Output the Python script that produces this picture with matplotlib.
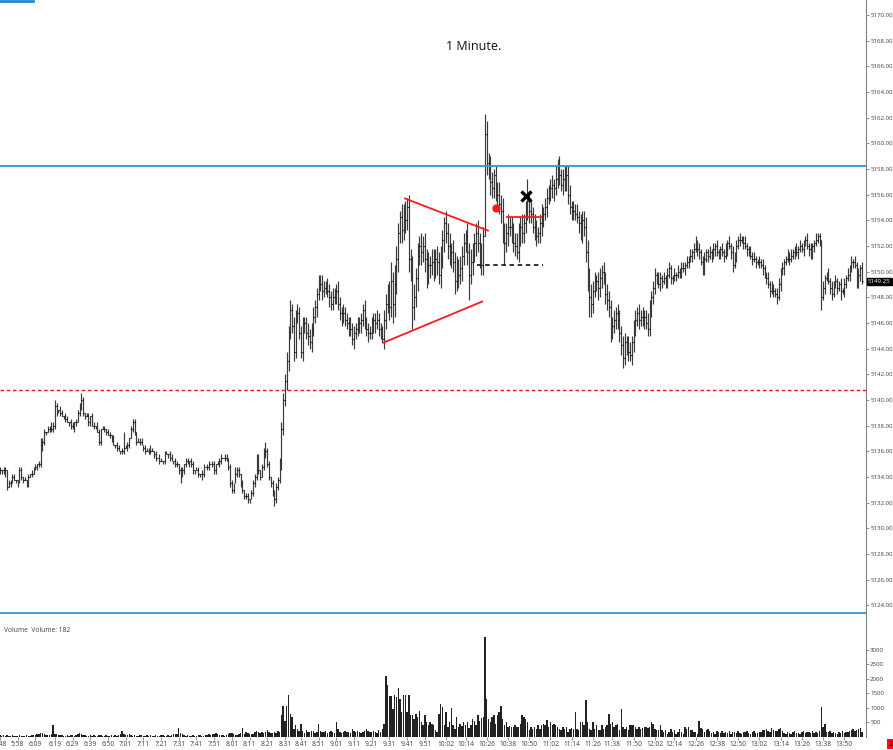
import matplotlib
matplotlib.use('Agg')
import matplotlib.pyplot as plt
from matplotlib.lines import Line2D
from matplotlib.patches import Rectangle
import numpy as np

# 1 minute closes, one row per 10 bars (5:48 .. 13:57)
close = [
    5134.5, 5134.5, 5134.25, 5134.5, 5133.25, 5133.5, 5133.75, 5134.0, 5133.75, 5133.75,
    5133.5, 5134.5, 5134.0, 5133.75, 5133.75, 5133.5, 5134.0, 5134.25, 5134.25, 5134.5,
    5134.75, 5135.0, 5135.0, 5136.5, 5136.75, 5137.5, 5137.5, 5137.75, 5137.75, 5137.75,
    5138.0, 5139.5, 5139.25, 5139.25, 5139.0, 5138.75, 5138.75, 5138.5, 5138.25, 5138.25,
    5138.0, 5137.75, 5138.25, 5138.25, 5139.0, 5139.5, 5140.0, 5139.0, 5138.75, 5138.75,
    5138.25, 5138.75, 5138.0, 5138.0, 5138.0, 5137.5, 5136.75, 5137.75, 5137.75, 5137.75,
    5137.5, 5137.25, 5137.25, 5137.0, 5136.5, 5136.5, 5136.25, 5136.0, 5136.0, 5136.0,
    5136.25, 5136.25, 5136.5, 5137.0, 5137.75, 5138.25, 5137.5, 5136.75, 5136.75, 5136.75,
    5136.5, 5136.25, 5136.0, 5136.0, 5136.25, 5136.0, 5136.0, 5135.75, 5135.5, 5135.5,
    5135.25, 5135.25, 5135.25, 5135.75, 5135.75, 5135.75, 5135.5, 5135.25, 5135.25, 5135.0,
    5135.0, 5134.5, 5134.0, 5134.5, 5135.0, 5135.25, 5135.0, 5135.25, 5135.0, 5134.5,
    5134.5, 5134.5, 5134.25, 5134.25, 5134.25, 5134.75, 5134.75, 5134.75, 5135.0, 5135.0,
    5135.0, 5134.5, 5135.0, 5135.0, 5135.25, 5135.5, 5135.5, 5135.5, 5135.5, 5134.75,
    5133.5, 5133.0, 5133.5, 5134.25, 5134.5, 5134.25, 5133.5, 5133.0, 5132.5, 5132.5,
    5132.25, 5132.25, 5132.75, 5133.5, 5134.0, 5135.5, 5134.5, 5134.0, 5134.75, 5135.75,
    5136.0, 5135.0, 5134.0, 5133.5, 5132.75, 5132.25, 5133.25, 5133.75, 5135.0, 5137.75,
    5140.0, 5141.5, 5143.0, 5145.25, 5147.0, 5145.75, 5143.75, 5146.5, 5146.75, 5145.25,
    5143.75, 5145.75, 5146.0, 5145.25, 5145.0, 5144.5, 5145.5, 5146.5, 5147.25, 5148.25,
    5149.25, 5149.0, 5148.5, 5148.75, 5148.75, 5148.5, 5148.0, 5147.5, 5148.0, 5148.25,
    5148.5, 5147.5, 5146.75, 5146.5, 5146.75, 5146.25, 5146.0, 5145.75, 5145.5, 5144.75,
    5145.25, 5145.5, 5145.75, 5146.0, 5146.25, 5147.0, 5146.0, 5145.5, 5145.25, 5145.25,
    5145.75, 5146.25, 5146.0, 5146.25, 5145.5, 5145.25, 5144.75, 5146.25, 5147.5, 5148.25,
    5147.25, 5149.25, 5147.5, 5149.0, 5151.0, 5153.0, 5154.25, 5153.25, 5154.5, 5154.0,
    5155.0, 5151.0, 5150.0, 5147.25, 5148.0, 5149.5, 5151.25, 5152.0, 5151.5, 5152.0,
    5151.0, 5149.75, 5150.5, 5150.5, 5150.75, 5150.25, 5151.0, 5150.75, 5149.75, 5151.0,
    5152.5, 5153.75, 5153.0, 5152.0, 5151.25, 5151.5, 5150.75, 5149.25, 5150.25, 5149.75,
    5150.25, 5151.25, 5152.25, 5152.75, 5151.5, 5149.75, 5150.75, 5151.5, 5152.25, 5153.0,
    5152.25, 5151.25, 5150.5, 5152.75, 5160.75, 5158.5, 5158.0, 5157.0, 5156.5, 5157.5,
    5156.25, 5156.0, 5155.25, 5154.75, 5153.0, 5152.25, 5153.0, 5153.5, 5153.5, 5153.0,
    5152.25, 5152.0, 5151.5, 5153.0, 5153.5, 5153.0, 5153.75, 5154.75, 5155.5, 5154.75,
    5154.5, 5153.5, 5153.25, 5152.75, 5153.0, 5153.75, 5154.25, 5154.5, 5155.0, 5155.75,
    5156.25, 5156.5, 5156.75, 5156.5, 5157.25, 5158.0, 5157.5, 5156.75, 5157.25, 5157.0,
    5157.5, 5156.0, 5155.0, 5154.75, 5154.75, 5154.5, 5154.25, 5153.75, 5153.25, 5154.0,
    5153.5, 5151.5, 5149.5, 5148.0, 5147.5, 5148.5, 5149.25, 5149.25, 5148.75, 5149.5,
    5150.0, 5149.5, 5148.25, 5147.75, 5147.25, 5145.5, 5145.75, 5146.25, 5146.75, 5146.25,
    5145.25, 5144.25, 5143.25, 5144.5, 5144.25, 5143.75, 5143.5, 5144.5, 5145.5, 5146.25,
    5146.75, 5146.25, 5146.5, 5146.25, 5146.5, 5146.0, 5145.5, 5147.25, 5148.0, 5148.75,
    5149.75, 5149.5, 5149.0, 5149.5, 5149.25, 5149.5, 5149.25, 5149.75, 5150.25, 5149.5,
    5149.5, 5149.75, 5149.75, 5150.0, 5150.0, 5150.25, 5150.25, 5150.5, 5150.75, 5151.0,
    5151.25, 5151.5, 5151.75, 5152.25, 5151.75, 5151.5, 5150.75, 5150.25, 5151.0, 5151.5,
    5151.25, 5151.5, 5151.25, 5151.75, 5152.0, 5151.5, 5151.5, 5151.75, 5151.5, 5151.25,
    5151.75, 5152.25, 5152.0, 5151.5, 5150.5, 5151.25, 5152.0, 5152.5, 5152.5, 5152.5,
    5152.25, 5152.0, 5151.75, 5151.5, 5151.25, 5151.0, 5151.0, 5150.75, 5150.75, 5150.75,
    5150.5, 5150.25, 5149.75, 5149.5, 5149.0, 5148.5, 5148.75, 5148.5, 5148.25, 5148.0,
    5149.0, 5150.0, 5150.25, 5150.75, 5151.0, 5151.25, 5151.0, 5151.25, 5151.5, 5151.75,
    5151.5, 5151.75, 5152.0, 5151.75, 5152.25, 5152.5, 5152.0, 5151.75, 5151.25, 5152.0,
    5152.25, 5152.5, 5152.75, 5152.5, 5148.0, 5148.75, 5149.5, 5149.75, 5149.25, 5148.75,
    5148.25, 5149.0, 5149.25, 5148.75, 5149.0, 5148.5, 5148.5, 5149.0, 5149.5, 5149.75,
    5150.25, 5150.75, 5150.75, 5150.5, 5149.0, 5149.75, 5150.25, 5149.25,
]

# wick above / below the open-close body, in ticks of 0.25
wick_up = [
    1, 0, 1, 1, 0, 1, 0, 1, 1, 0,  0, 1, 1, 0, 1, 0, 1, 0, 1, 1,
    1, 0, 1, 2, 1, 1, 0, 1, 1, 2,  1, 2, 1, 0, 1, 1, 0, 1, 1, 0,
    1, 1, 0, 1, 1, 1, 2, 1, 0, 1,  1, 0, 1, 1, 0, 1, 1, 0, 1, 1,
    0, 1, 1, 0, 1, 0, 1, 1, 0, 1,  5, 1, 1, 0, 1, 1, 1, 0, 1, 1,
    1, 0, 1, 1, 0, 1, 1, 0, 1, 0,  1, 1, 0, 1, 1, 0, 1, 1, 0, 1,
    1, 0, 1, 1, 0, 1, 1, 0, 1, 1,  0, 1, 1, 0, 1, 1, 0, 1, 1, 0,
    1, 1, 0, 1, 1, 1, 0, 1, 1, 0,  1, 1, 0, 2, 1, 1, 0, 1, 0, 1,
    1, 0, 1, 1, 1, 1, 1, 0, 1, 2,  3, 1, 1, 0, 1, 1, 1, 1, 2, 2,
    2, 2, 3, 2, 3, 2, 3, 2, 3, 2,  2, 3, 2, 2, 3, 2, 2, 3, 2, 2,
    2, 2, 3, 2, 2, 3, 2, 2, 3, 2,  2, 3, 2, 2, 3, 2, 2, 2, 3, 2,
    2, 2, 3, 2, 2, 2, 3, 2, 2, 2,  3, 2, 2, 3, 2, 2, 2, 3, 3, 3,
    4, 6, 3, 6, 4, 3, 2, 4, 3, 4,  3, 4, 3, 5, 4, 3, 4, 3, 4, 3,
    4, 3, 4, 3, 4, 4, 3, 4, 3, 4,  3, 2, 4, 3, 4, 3, 4, 3, 4, 3,
    4, 3, 3, 2, 4, 3, 4, 3, 3, 3,  4, 3, 4, 3, 6, 4, 3, 4, 3, 2,
    3, 3, 4, 3, 4, 3, 3, 4, 3, 3,  3, 3, 4, 3, 3, 4, 3, 3, 7, 3,
    3, 2, 4, 3, 2, 3, 4, 2, 3, 3,  2, 3, 3, 2, 4, 3, 4, 2, 3, 4,
    3, 3, 3, 2, 3, 2, 3, 2, 3, 3,  3, 3, 4, 3, 4, 3, 3, 2, 3, 3,
    2, 3, 2, 3, 3, 2, 3, 3, 2, 3,  3, 2, 3, 3, 2, 3, 3, 2, 3, 3,
    2, 3, 2, 3, 2, 2, 3, 2, 2, 2,  2, 1, 2, 2, 1, 2, 1, 2, 2, 1,
    1, 2, 1, 2, 1, 2, 2, 1, 2, 1,  2, 1, 2, 2, 1, 2, 1, 2, 2, 1,
    1, 2, 1, 2, 1, 2, 1, 1, 2, 1,  2, 1, 2, 1, 2, 1, 2, 1, 2, 1,
    1, 2, 1, 1, 2, 1, 2, 1, 1, 2,  1, 2, 1, 1, 2, 1, 2, 1, 1, 2,
    2, 1, 2, 1, 1, 2, 1, 2, 1, 1,  2, 1, 2, 1, 1, 1, 2, 1, 2, 1,
    1, 2, 1, 1, 0, 2, 1, 1, 2, 1,  2, 1, 2, 1, 1, 2, 1, 2, 1, 2,
    1, 2, 1, 2, 1, 2, 1, 2,
]
wick_dn = [
    1, 1, 0, 1, 1, 0, 1, 1, 0, 1,  1, 0, 1, 1, 0, 1, 1, 0, 1, 0,
    0, 1, 1, 1, 2, 1, 1, 0, 1, 1,  1, 1, 2, 1, 1, 0, 1, 1, 0, 1,
    1, 0, 1, 1, 0, 1, 1, 1, 1, 0,  1, 1, 0, 1, 1, 0, 1, 1, 0, 1,
    1, 0, 1, 1, 0, 1, 1, 0, 1, 1,  1, 0, 1, 1, 0, 1, 1, 1, 0, 1,
    0, 1, 1, 0, 1, 1, 0, 1, 1, 0,  1, 0, 1, 1, 0, 1, 1, 0, 1, 1,
    1, 1, 2, 0, 1, 1, 0, 1, 1, 1,  1, 0, 1, 1, 2, 1, 0, 1, 1, 0,
    1, 1, 1, 0, 1, 1, 0, 1, 1, 1,  1, 1, 1, 0, 1, 1, 1, 1, 1, 1,
    1, 1, 0, 1, 1, 1, 1, 1, 0, 1,  1, 1, 1, 1, 1, 2, 1, 1, 1, 2,
    2, 2, 3, 3, 2, 2, 3, 2, 2, 2,  2, 3, 2, 2, 3, 2, 3, 2, 2, 3,
    2, 2, 3, 2, 2, 2, 3, 2, 2, 2,  3, 2, 2, 3, 2, 2, 2, 3, 2, 2,
    3, 2, 2, 2, 3, 2, 2, 2, 3, 2,  2, 2, 3, 2, 2, 2, 1, 3, 3, 3,
    4, 3, 6, 4, 3, 4, 3, 4, 3, 4,  3, 4, 3, 7, 4, 3, 4, 3, 4, 3,
    4, 4, 3, 4, 3, 4, 3, 4, 3, 4,  3, 4, 3, 4, 3, 4, 3, 4, 3, 4,
    3, 4, 3, 3, 4, 8, 3, 4, 3, 4,  3, 4, 3, 3, 0, 4, 3, 4, 3, 3,
    3, 4, 3, 4, 3, 7, 3, 4, 3, 3,  3, 3, 2, 3, 4, 3, 3, 3, 3, 4,
    3, 2, 3, 3, 2, 3, 4, 3, 2, 3,  2, 3, 3, 4, 2, 3, 3, 2, 3, 3,
    3, 3, 2, 3, 3, 2, 2, 3, 3, 4,  3, 3, 4, 6, 4, 3, 2, 3, 4, 3,
    3, 2, 3, 3, 3, 4, 3, 2, 3, 3,  3, 3, 3, 2, 3, 3, 2, 3, 3, 2,
    2, 3, 2, 2, 3, 2, 2, 2, 3, 2,  2, 2, 1, 2, 2, 1, 2, 2, 1, 2,
    2, 1, 2, 1, 2, 2, 1, 2, 1, 2,  1, 2, 2, 1, 2, 2, 1, 2, 2, 1,
    2, 1, 2, 1, 2, 1, 2, 2, 1, 2,  1, 2, 1, 2, 2, 1, 2, 1, 2, 1,
    2, 1, 2, 1, 1, 2, 1, 2, 1, 2,  1, 2, 1, 2, 1, 2, 1, 2, 1, 2,
    1, 2, 1, 2, 1, 1, 2, 1, 1, 2,  1, 2, 1, 1, 2, 1, 1, 2, 1, 1,
    2, 1, 1, 2, 4, 1, 2, 1, 1, 2,  2, 1, 1, 2, 1, 3, 1, 2, 1, 1,
    2, 1, 2, 1, 1, 1, 2, 1,
]

volume = [
    60, 40, 80, 50, 70, 40, 30, 60, 50, 40,
    50, 70, 40, 30, 50, 60, 40, 50, 70, 60,
    80, 90, 110, 140, 130, 120, 70, 60, 80, 90,
    400, 110, 90, 70, 60, 80, 50, 40, 60, 50,
    70, 60, 50, 80, 90, 150, 100, 70, 60, 50,
    40, 60, 50, 70, 40, 50, 60, 80, 50, 40,
    60, 50, 40, 70, 50, 60, 40, 80, 110, 190,
    120, 80, 60, 90, 70, 50, 60, 40, 50, 60,
    70, 50, 40, 60, 50, 70, 40, 50, 60, 40,
    50, 60, 70, 50, 40, 60, 50, 70, 90, 110,
    120, 300, 130, 90, 70, 50, 60, 40, 50, 60,
    40, 50, 70, 60, 50, 40, 60, 70, 90, 80,
    100, 120, 140, 90, 70, 60, 80, 50, 70, 110,
    140, 130, 90, 80, 70, 110, 150, 300, 120, 170,
    140, 110, 90, 120, 160, 220, 170, 150, 160, 140,
    180, 230, 170, 150, 130, 160, 140, 200, 180, 770,
    1070, 560, 1070, 1460, 790, 680, 280, 400, 280, 220,
    450, 200, 150, 230, 180, 160, 210, 190, 150, 170,
    450, 220, 160, 180, 210, 150, 170, 200, 160, 140,
    510, 260, 180, 150, 170, 200, 160, 180, 150, 280,
    190, 160, 200, 180, 150, 170, 210, 280, 190, 170,
    160, 200, 180, 150, 230, 180, 280, 450, 2090, 1790,
    1400, 1420, 960, 1440, 1360, 1700, 1300, 850, 1440, 1430,
    850, 1460, 740, 770, 620, 790, 680, 910, 510, 400,
    740, 510, 400, 530, 450, 400, 230, 170, 790, 1130,
    1020, 400, 850, 340, 510, 990, 400, 280, 680, 340,
    450, 380, 530, 400, 510, 300, 400, 620, 560, 420,
    760, 560, 640, 700, 3450, 1300, 620, 530, 680, 740,
    450, 760, 850, 1080, 620, 400, 510, 340, 380, 340,
    340, 400, 340, 340, 450, 740, 700, 620, 500, 230,
    360, 280, 340, 280, 400, 280, 400, 450, 400, 590,
    340, 510, 400, 450, 400, 340, 280, 230, 340, 280,
    340, 170, 280, 300, 280, 850, 280, 230, 510, 530,
    420, 1270, 530, 280, 230, 510, 280, 400, 230, 230,
    400, 280, 340, 400, 790, 450, 530, 340, 420, 450,
    230, 960, 340, 280, 340, 230, 420, 400, 400, 340,
    280, 340, 280, 300, 340, 340, 300, 340, 510, 450,
    280, 230, 230, 400, 230, 170, 230, 110, 170, 280,
    170, 230, 110, 170, 280, 170, 110, 340, 280, 340,
    230, 230, 170, 170, 110, 540, 300, 280, 170, 230,
    280, 200, 150, 180, 120, 220, 160, 130, 190, 150,
    170, 140, 210, 120, 160, 180, 130, 200, 150, 110,
    170, 160, 190, 140, 120, 170, 210, 150, 130, 180,
    160, 230, 250, 280, 210, 180, 300, 250, 220, 190,
    260, 300, 190, 150, 120, 170, 140, 110, 160, 190,
    130, 150, 120, 170, 200, 140, 180, 160, 130, 190,
    150, 170, 140, 210, 1020, 330, 450, 180, 160, 200,
    140, 170, 150, 120, 160, 140, 190, 150, 170, 180,
    200, 230, 280, 220, 240, 280, 310, 182,
]

# time axis labels and the bar they sit under
tick_text = ['5:48', '5:58', '6:09', '6:19', '6:29', '6:39', '6:50', '7:01', '7:11',
             '7:21', '7:31', '7:41', '7:51', '8:01', '8:11', '8:21', '8:31', '8:41',
             '8:51', '9:01', '9:11', '9:21', '9:31', '9:41', '9:51', '10:02', '10:14',
             '10:26', '10:38', '10:50', '11:02', '11:14', '11:26', '11:38', '11:50',
             '12:02', '12:14', '12:26', '12:38', '12:50', '13:02', '13:14', '13:26',
             '13:38', '13:50']
tick_bar = [0, 10, 20, 31, 41, 51, 61, 71, 81, 91, 101, 111, 121, 131, 141, 151, 161,
            170, 180, 190, 200, 210, 220, 230, 240, 252, 263, 275, 287, 299, 311, 323,
            335, 346, 358, 370, 381, 393, 405, 417, 429, 441, 453, 465, 477]

price_ticks = [5124, 5126, 5128, 5130, 5132, 5134, 5136, 5138, 5140, 5142, 5144, 5146,
               5148, 5150, 5152, 5154, 5156, 5158, 5160, 5162, 5164, 5166, 5168, 5170]
volume_ticks = [500, 1000, 1500, 2000, 2500, 3000]

# drawing objects: (bar, price)
blue_levels = [5158.25, 5123.4]
red_level = 5140.75
tri_upper = [(228.8, 5155.7), (275.7, 5153.2)]
tri_lower = [(216.4, 5144.45), (272.3, 5147.66)]
red_flat = [(286.4, 5154.25), (305.6, 5154.25)]
black_dash = [(269.5, 5150.5), (306.8, 5150.5)]
red_dot = (280.2, 5154.95)
x_mark = (297.2, 5155.9)

BLUE = '#3592d4'
AXCOL = '#808080'
TXT = '#404040'
LBL = 4.4

plt.rcParams['font.family'] = ['Open Sans', 'DejaVu Sans']

n = min(len(close), len(wick_up), len(wick_dn), len(volume))
c = np.array(close[:n])
o = np.concatenate([[c[0]], c[:-1]])
hi = np.maximum(o, c) + 0.25 * np.array(wick_up[:n])
lo = np.minimum(o, c) - 0.25 * np.array(wick_dn[:n])
idx = np.arange(n)

W, H = 893, 750
fig = plt.figure(figsize=(W / 100, H / 100), dpi=100)
ax = fig.add_axes([0, 1 - 620 / H, 866 / W, 620 / H])
axv = fig.add_axes([0, 1 - 737 / H, 866 / W, 117 / H], sharex=ax)

# OHLC bars
ax.vlines(idx, lo, hi, color='#3a3a3a', lw=0.85)
ax.hlines(o, idx - 0.45, idx, color='#111111', lw=0.8)
ax.hlines(c, idx, idx + 0.45, color='#111111', lw=0.8)

# levels
for lev in blue_levels:
    ax.axhline(lev, color=BLUE, lw=1.3)
ax.axhline(red_level, color='#e8141c', lw=1.0, ls=(0, (2.5, 2)))

# drawings
for seg, col, sty in [(tri_upper, '#ff1a1a', '-'), (tri_lower, '#ff1a1a', '-'),
                      (red_flat, '#ff1a1a', '-'), (black_dash, '#222222', (0, (2.5, 2)))]:
    ax.plot([seg[0][0], seg[1][0]], [seg[0][1], seg[1][1]], color=col, lw=1.3, ls=sty)
ax.plot([red_dot[0]], [red_dot[1]], 'o', color='#ff1a1a', ms=6, mec='none')
ax.plot([x_mark[0]], [x_mark[1]], 'x', color='black', ms=7.5, mew=2.4)

ax.text(0.5467, 1 - 46 / 620, '1 Minute.', transform=ax.transAxes, ha='center',
        va='center', fontsize=9, color='#111111')

ax.set_xlim(0, 866 / 1.77)
ax.set_ylim(5170 - 605 / 12.83, 5170 + 15 / 12.83)
ax.set_yticks(price_ticks)
ax.set_yticklabels(['%.2f' % p for p in price_ticks])

for a in (ax, axv):
    a.yaxis.tick_right()
    for s in ('top', 'left', 'bottom'):
        a.spines[s].set_visible(False)
    a.spines['right'].set_color(AXCOL)
    a.spines['right'].set_linewidth(0.8)
    a.tick_params(axis='y', direction='out', length=2, width=0.6, color=AXCOL,
                  labelsize=LBL, labelcolor=TXT, pad=1)
ax.tick_params(axis='x', bottom=False, labelbottom=False)

# last price tag
ax.annotate('%.2f' % c[-1], xy=(1.0, c[-1]), xycoords=('axes fraction', 'data'),
            xytext=(1.5, 0), textcoords='offset points', va='center', ha='left',
            fontsize=LBL, color='white',
            bbox=dict(boxstyle='square,pad=0.2', fc='black', ec='black'))

# volume panel
axv.bar(idx, volume[:n], width=0.8, color='#222222', lw=0)
axv.set_ylim(0, 117 * 34.4)
axv.set_yticks(volume_ticks)
axv.set_yticklabels([str(v) for v in volume_ticks])
axv.set_xticks(tick_bar)
axv.set_xticklabels(tick_text)
axv.tick_params(axis='x', direction='out', length=2, width=0.6, color=AXCOL,
                labelsize=4.8, labelcolor=TXT, pad=1)
axv.set_xlim(0, 866 / 1.77)

fig.text(4 / W, 1 - 631 / H, 'Volume  Volume: %d' % volume[n - 1], fontsize=4.8,
         color=TXT, va='center', ha='left')

# corner marks from the platform
fig.add_artist(Line2D([0, 33 / W], [1 - 1 / H, 1 - 1 / H], color='#1e88d8', lw=2))
fig.add_artist(Rectangle((887 / W, 1 - 749 / H), 8 / W, 10 / H, transform=fig.transFigure,
                         fc='#ee1111', ec='none'))
fig.text(888.5 / W, 1 - 744 / H, '2', fontsize=5, color='black', va='center', ha='left')

fig.savefig('out.png', dpi=100)
